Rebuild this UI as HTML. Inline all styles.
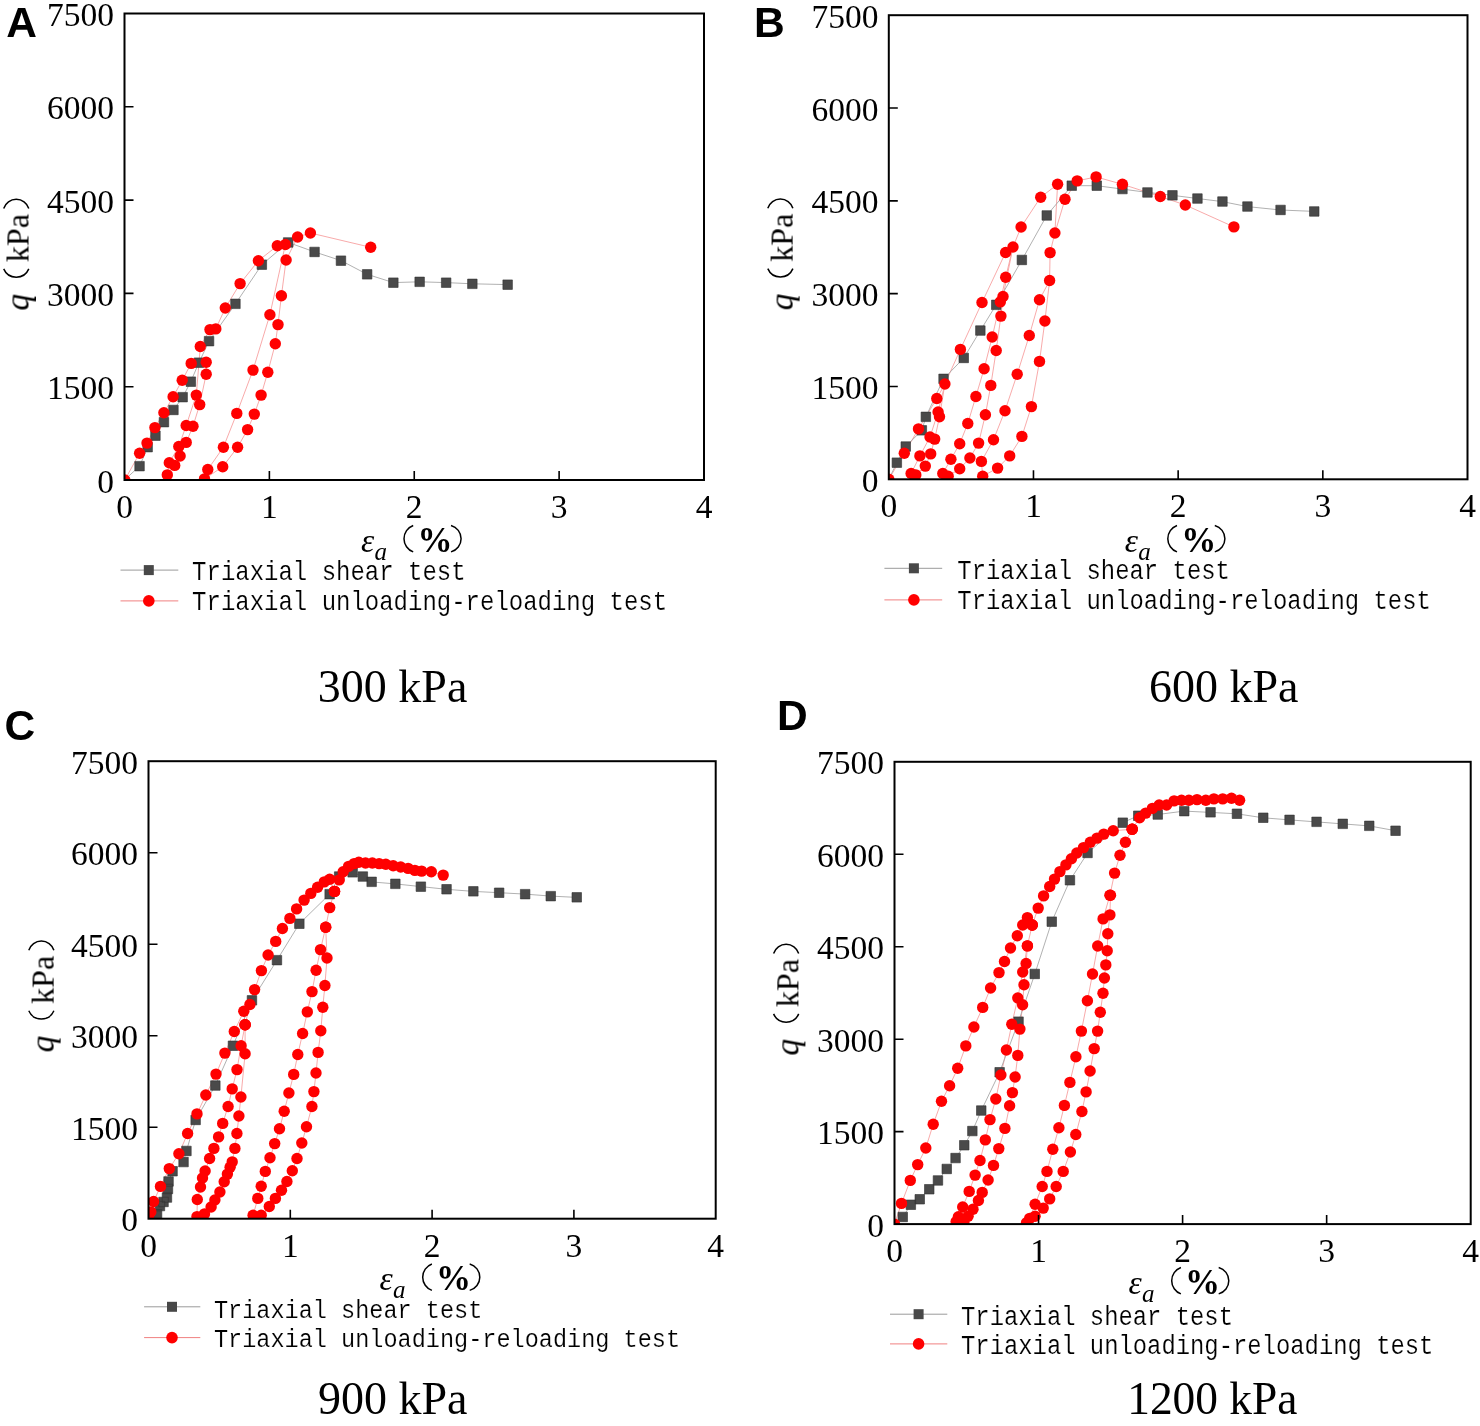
<!DOCTYPE html><html><head><meta charset="utf-8"><style>html,body{margin:0;padding:0;background:#fff;}svg{display:block;}text{will-change:transform;}</style></head><body>
<svg width="1480" height="1426" viewBox="0 0 1480 1426">
<rect width="1480" height="1426" fill="#fff"/>
<defs>
<clipPath id="clipA"><rect x="124.5" y="13.5" width="579.50" height="466.50"/></clipPath>
<clipPath id="clipB"><rect x="888.8" y="15.2" width="578.70" height="464.10"/></clipPath>
<clipPath id="clipC"><rect x="148.5" y="761.2" width="567.20" height="457.50"/></clipPath>
<clipPath id="clipD"><rect x="894.5" y="761.8" width="576.20" height="462.30"/></clipPath>
</defs>
<g clip-path="url(#clipA)">
<polyline points="124.8,480.0 139.6,453.2 147.0,443.1 154.9,427.6 163.9,412.7 173.1,396.8 182.2,380.3 191.2,363.4 206.2,362.2 206.2,374.2 199.7,404.6 193.0,426.2 186.2,442.4 180.1,456.0 174.7,465.4 167.3,474.9 169.3,462.7 178.8,446.5 186.2,425.5 196.3,395.1 200.3,346.5 210.0,329.6 215.8,328.9 225.3,308.0 240.1,283.6 258.4,260.7 277.3,245.8 285.4,244.5 269.9,314.7 253.0,370.1 236.8,413.4 223.4,447.2 207.8,469.5 204.5,478.9 222.7,466.8 237.6,447.2 247.6,429.6 254.3,414.1 261.1,395.1 267.8,372.2 275.3,343.8 278.0,324.6 281.4,295.8 286.1,260.0 297.6,237.0 310.4,233.0 370.7,247.3" fill="none" stroke="#f7a0a0" stroke-width="0.9" />
<polyline points="124.5,480.0 139.6,466.1 147.7,447.2 155.4,435.7 163.9,422.2 173.4,410.0 182.7,397.2 190.8,381.6 198.9,362.7 209.1,341.1 235.4,303.9 261.8,264.7 288.1,242.4 314.5,251.9 341.0,260.6 367.1,274.3 393.4,282.6 419.7,281.8 446.1,282.6 472.4,283.8 507.6,284.6" fill="none" stroke="#a8a8a8" stroke-width="0.9" />
<path fill="#4a4a4a" stroke="#303030" stroke-width="0.6" d="M134.8 461.4h9.5v9.5h-9.5zM142.9 442.4h9.5v9.5h-9.5zM150.7 430.9h9.5v9.5h-9.5zM159.2 417.4h9.5v9.5h-9.5zM168.7 405.2h9.5v9.5h-9.5zM177.9 392.4h9.5v9.5h-9.5zM186.1 376.9h9.5v9.5h-9.5zM194.2 357.9h9.5v9.5h-9.5zM204.3 336.4h9.5v9.5h-9.5zM230.7 299.1h9.5v9.5h-9.5zM257.1 259.9h9.5v9.5h-9.5zM283.4 237.7h9.5v9.5h-9.5zM309.8 247.2h9.5v9.5h-9.5zM336.2 255.9h9.5v9.5h-9.5zM362.4 269.6h9.5v9.5h-9.5zM388.6 277.9h9.5v9.5h-9.5zM414.9 277.1h9.5v9.5h-9.5zM441.4 277.9h9.5v9.5h-9.5zM467.6 279.1h9.5v9.5h-9.5zM502.9 279.9h9.5v9.5h-9.5z"/>
<g fill="#ff0000"><circle cx="124.8" cy="480.0" r="5.7"/><circle cx="139.6" cy="453.2" r="5.7"/><circle cx="147.0" cy="443.1" r="5.7"/><circle cx="154.9" cy="427.6" r="5.7"/><circle cx="163.9" cy="412.7" r="5.7"/><circle cx="173.1" cy="396.8" r="5.7"/><circle cx="182.2" cy="380.3" r="5.7"/><circle cx="191.2" cy="363.4" r="5.7"/><circle cx="206.2" cy="362.2" r="5.7"/><circle cx="206.2" cy="374.2" r="5.7"/><circle cx="199.7" cy="404.6" r="5.7"/><circle cx="193.0" cy="426.2" r="5.7"/><circle cx="186.2" cy="442.4" r="5.7"/><circle cx="180.1" cy="456.0" r="5.7"/><circle cx="174.7" cy="465.4" r="5.7"/><circle cx="167.3" cy="474.9" r="5.7"/><circle cx="169.3" cy="462.7" r="5.7"/><circle cx="178.8" cy="446.5" r="5.7"/><circle cx="186.2" cy="425.5" r="5.7"/><circle cx="196.3" cy="395.1" r="5.7"/><circle cx="200.3" cy="346.5" r="5.7"/><circle cx="210.0" cy="329.6" r="5.7"/><circle cx="215.8" cy="328.9" r="5.7"/><circle cx="225.3" cy="308.0" r="5.7"/><circle cx="240.1" cy="283.6" r="5.7"/><circle cx="258.4" cy="260.7" r="5.7"/><circle cx="277.3" cy="245.8" r="5.7"/><circle cx="285.4" cy="244.5" r="5.7"/><circle cx="269.9" cy="314.7" r="5.7"/><circle cx="253.0" cy="370.1" r="5.7"/><circle cx="236.8" cy="413.4" r="5.7"/><circle cx="223.4" cy="447.2" r="5.7"/><circle cx="207.8" cy="469.5" r="5.7"/><circle cx="204.5" cy="478.9" r="5.7"/><circle cx="222.7" cy="466.8" r="5.7"/><circle cx="237.6" cy="447.2" r="5.7"/><circle cx="247.6" cy="429.6" r="5.7"/><circle cx="254.3" cy="414.1" r="5.7"/><circle cx="261.1" cy="395.1" r="5.7"/><circle cx="267.8" cy="372.2" r="5.7"/><circle cx="275.3" cy="343.8" r="5.7"/><circle cx="278.0" cy="324.6" r="5.7"/><circle cx="281.4" cy="295.8" r="5.7"/><circle cx="286.1" cy="260.0" r="5.7"/><circle cx="297.6" cy="237.0" r="5.7"/><circle cx="310.4" cy="233.0" r="5.7"/><circle cx="370.7" cy="247.3" r="5.7"/></g>
</g>
<rect x="124.5" y="13.5" width="579.50" height="466.50" fill="none" stroke="#000" stroke-width="2"/>
<path d="M124.5 386.70h9 M124.5 293.40h9 M124.5 200.10h9 M124.5 106.80h9 M269.38 480.0v-9 M414.25 480.0v-9 M559.12 480.0v-9" stroke="#000" stroke-width="1.6" fill="none"/>
<text x="114.1" y="492.5" font-family='"Liberation Serif", serif' font-size="33.5" text-anchor="end">0</text>
<text x="114.1" y="399.2" font-family='"Liberation Serif", serif' font-size="33.5" text-anchor="end">1500</text>
<text x="114.1" y="305.9" font-family='"Liberation Serif", serif' font-size="33.5" text-anchor="end">3000</text>
<text x="114.1" y="212.6" font-family='"Liberation Serif", serif' font-size="33.5" text-anchor="end">4500</text>
<text x="114.1" y="119.3" font-family='"Liberation Serif", serif' font-size="33.5" text-anchor="end">6000</text>
<text x="114.1" y="26.0" font-family='"Liberation Serif", serif' font-size="33.5" text-anchor="end">7500</text>
<text x="124.5" y="517.8" font-family='"Liberation Serif", serif' font-size="33.5" text-anchor="middle">0</text>
<text x="269.4" y="517.8" font-family='"Liberation Serif", serif' font-size="33.5" text-anchor="middle">1</text>
<text x="414.2" y="517.8" font-family='"Liberation Serif", serif' font-size="33.5" text-anchor="middle">2</text>
<text x="559.1" y="517.8" font-family='"Liberation Serif", serif' font-size="33.5" text-anchor="middle">3</text>
<text x="704.0" y="517.8" font-family='"Liberation Serif", serif' font-size="33.5" text-anchor="middle">4</text>
<text x="6.3" y="36.8" font-family='"Liberation Sans", sans-serif' font-weight="bold" font-size="42.5">A</text>
<g transform="translate(28.5,309.6) rotate(-90)">
<text x="-1" y="0" font-family='"Liberation Serif", serif' font-style="italic" font-size="33.5">q</text>
<path d="M40.70 -24.80A13.64 13.64 0 0 0 40.70 0.30" fill="none" stroke="#000" stroke-width="1.5"/>
<text x="47.6" y="0" font-family='"Liberation Serif", serif' font-size="32.5" textLength="48" lengthAdjust="spacingAndGlyphs">kPa</text>
<path d="M101.10 -24.80A13.16 13.16 0 0 1 101.10 0.30" fill="none" stroke="#000" stroke-width="1.5"/>
</g>
<text x="360.9" y="551.5" font-family='"Liberation Serif", serif' font-style="italic" font-size="33.5">&#949;</text>
<text x="374.4" y="559.8" font-family='"Liberation Serif", serif' font-style="italic" font-size="25">a</text>
<path d="M413.20 525.50A14.07 14.07 0 0 0 413.20 551.90" fill="none" stroke="#000" stroke-width="1.5"/>
<path d="M451.00 525.50A13.68 13.68 0 0 1 451.00 551.90" fill="none" stroke="#000" stroke-width="1.5"/>
<text x="417.4" y="551.5" font-family='"Liberation Serif", serif' font-weight="bold" font-size="35">%</text>
<path d="M120.5 570.1H178.3" stroke="#9a9a9a" stroke-width="1"/>
<rect x="143.8" y="565.1" width="10" height="10" fill="#484848"/>
<path d="M120.5 600.9H178.3" stroke="#f08080" stroke-width="1"/>
<circle cx="148.8" cy="600.9" r="5.8" fill="#ff0000"/>
<g transform="translate(192.1,580.2) scale(1,1.13)"><text x="0" y="0" font-family='"Liberation Mono", monospace' font-size="24.0" stroke="#fff" stroke-width="0.15">Triaxial shear test</text></g>
<g transform="translate(192.1,610.0) scale(1,1.13)"><text x="0" y="0" font-family='"Liberation Mono", monospace' font-size="24.0" stroke="#fff" stroke-width="0.15">Triaxial unloading-reloading test</text></g>
<text x="317.8" y="702.4" font-family='"Liberation Serif", serif' font-size="46">300 kPa</text>
<g clip-path="url(#clipB)">
<polyline points="888.8,479.3 904.3,453.2 918.5,428.9 936.8,398.5 944.9,384.0 939.5,416.8 934.7,439.1 930.7,453.9 925.3,466.1 915.8,474.9 911.1,473.5 919.9,455.9 930.0,437.0 938.1,412.0 944.9,384.0 960.4,349.4 982.0,302.5 1005.6,252.5 1013.0,247.0" fill="none" stroke="#f7a0a0" stroke-width="0.9" />
<polyline points="1013.0,247.0 1005.7,277.3 1000.3,301.9 992.2,337.0 984.1,368.8 975.9,396.5 967.8,423.5 959.7,443.8 950.9,459.3 942.8,473.5 948.2,476.2 959.7,468.8 969.9,458.0 978.6,443.1 985.4,414.7 990.8,385.4 996.2,350.5 1000.9,316.1 1003.0,296.5 1013.0,247.0 1021.1,227.0 1040.7,197.2 1057.6,184.3" fill="none" stroke="#f7a0a0" stroke-width="0.9" />
<polyline points="1057.6,184.3 1054.9,233.0 1050.1,252.6 1049.6,280.5 1039.5,299.8 1029.3,335.5 1017.2,374.2 1005.0,410.7 993.5,439.7 981.4,461.4 982.7,476.2 997.6,468.1 1009.7,455.9 1021.9,436.4 1031.4,406.6 1039.5,361.4 1044.9,321.0 1049.6,280.5" fill="none" stroke="#f7a0a0" stroke-width="0.9" />
<polyline points="1054.9,233.0 1065.0,199.2 1077.2,180.9 1096.1,176.9 1122.4,184.3 1160.3,196.5 1185.3,205.0 1233.9,226.9" fill="none" stroke="#f7a0a0" stroke-width="0.9" />
<polyline points="888.8,479.3 896.9,462.7 905.7,446.5 921.9,430.3 925.9,416.8 943.5,378.9 963.8,358.0 980.4,330.5 996.2,304.8 1021.9,260.0 1046.8,215.4 1071.8,185.7 1096.8,185.7 1122.4,189.1 1147.4,192.4 1172.4,195.3 1197.4,198.5 1222.4,201.6 1247.4,206.6 1280.5,210.0 1314.3,211.4" fill="none" stroke="#a8a8a8" stroke-width="0.9" />
<path fill="#4a4a4a" stroke="#303030" stroke-width="0.6" d="M892.1 457.9h9.5v9.5h-9.5zM901.0 441.8h9.5v9.5h-9.5zM917.1 425.6h9.5v9.5h-9.5zM921.1 412.1h9.5v9.5h-9.5zM938.8 374.1h9.5v9.5h-9.5zM959.0 353.2h9.5v9.5h-9.5zM975.6 325.8h9.5v9.5h-9.5zM991.5 300.1h9.5v9.5h-9.5zM1017.1 255.2h9.5v9.5h-9.5zM1042.0 210.7h9.5v9.5h-9.5zM1067.0 180.9h9.5v9.5h-9.5zM1092.0 180.9h9.5v9.5h-9.5zM1117.7 184.3h9.5v9.5h-9.5zM1142.7 187.7h9.5v9.5h-9.5zM1167.7 190.6h9.5v9.5h-9.5zM1192.7 193.8h9.5v9.5h-9.5zM1217.7 196.8h9.5v9.5h-9.5zM1242.7 201.8h9.5v9.5h-9.5zM1275.8 205.2h9.5v9.5h-9.5zM1309.5 206.7h9.5v9.5h-9.5z"/>
<g fill="#ff0000"><circle cx="888.8" cy="479.3" r="5.7"/><circle cx="904.3" cy="453.2" r="5.7"/><circle cx="918.5" cy="428.9" r="5.7"/><circle cx="936.8" cy="398.5" r="5.7"/><circle cx="944.9" cy="384.0" r="5.7"/><circle cx="939.5" cy="416.8" r="5.7"/><circle cx="934.7" cy="439.1" r="5.7"/><circle cx="930.7" cy="453.9" r="5.7"/><circle cx="925.3" cy="466.1" r="5.7"/><circle cx="915.8" cy="474.9" r="5.7"/><circle cx="911.1" cy="473.5" r="5.7"/><circle cx="919.9" cy="455.9" r="5.7"/><circle cx="930.0" cy="437.0" r="5.7"/><circle cx="938.1" cy="412.0" r="5.7"/><circle cx="960.4" cy="349.4" r="5.7"/><circle cx="982.0" cy="302.5" r="5.7"/><circle cx="1005.6" cy="252.5" r="5.7"/><circle cx="1013.0" cy="247.0" r="5.7"/><circle cx="1005.7" cy="277.3" r="5.7"/><circle cx="1000.3" cy="301.9" r="5.7"/><circle cx="992.2" cy="337.0" r="5.7"/><circle cx="984.1" cy="368.8" r="5.7"/><circle cx="975.9" cy="396.5" r="5.7"/><circle cx="967.8" cy="423.5" r="5.7"/><circle cx="959.7" cy="443.8" r="5.7"/><circle cx="950.9" cy="459.3" r="5.7"/><circle cx="942.8" cy="473.5" r="5.7"/><circle cx="948.2" cy="476.2" r="5.7"/><circle cx="959.7" cy="468.8" r="5.7"/><circle cx="969.9" cy="458.0" r="5.7"/><circle cx="978.6" cy="443.1" r="5.7"/><circle cx="985.4" cy="414.7" r="5.7"/><circle cx="990.8" cy="385.4" r="5.7"/><circle cx="996.2" cy="350.5" r="5.7"/><circle cx="1000.9" cy="316.1" r="5.7"/><circle cx="1003.0" cy="296.5" r="5.7"/><circle cx="1021.1" cy="227.0" r="5.7"/><circle cx="1040.7" cy="197.2" r="5.7"/><circle cx="1057.6" cy="184.3" r="5.7"/><circle cx="1054.9" cy="233.0" r="5.7"/><circle cx="1050.1" cy="252.6" r="5.7"/><circle cx="1049.6" cy="280.5" r="5.7"/><circle cx="1039.5" cy="299.8" r="5.7"/><circle cx="1029.3" cy="335.5" r="5.7"/><circle cx="1017.2" cy="374.2" r="5.7"/><circle cx="1005.0" cy="410.7" r="5.7"/><circle cx="993.5" cy="439.7" r="5.7"/><circle cx="981.4" cy="461.4" r="5.7"/><circle cx="982.7" cy="476.2" r="5.7"/><circle cx="997.6" cy="468.1" r="5.7"/><circle cx="1009.7" cy="455.9" r="5.7"/><circle cx="1021.9" cy="436.4" r="5.7"/><circle cx="1031.4" cy="406.6" r="5.7"/><circle cx="1039.5" cy="361.4" r="5.7"/><circle cx="1044.9" cy="321.0" r="5.7"/><circle cx="1065.0" cy="199.2" r="5.7"/><circle cx="1077.2" cy="180.9" r="5.7"/><circle cx="1096.1" cy="176.9" r="5.7"/><circle cx="1122.4" cy="184.3" r="5.7"/><circle cx="1160.3" cy="196.5" r="5.7"/><circle cx="1185.3" cy="205.0" r="5.7"/><circle cx="1233.9" cy="226.9" r="5.7"/></g>
</g>
<rect x="888.8" y="15.2" width="578.70" height="464.10" fill="none" stroke="#000" stroke-width="2"/>
<path d="M888.8 386.48h9 M888.8 293.66h9 M888.8 200.84h9 M888.8 108.02h9 M1033.47 479.3v-9 M1178.15 479.3v-9 M1322.83 479.3v-9" stroke="#000" stroke-width="1.6" fill="none"/>
<text x="878.4" y="491.8" font-family='"Liberation Serif", serif' font-size="33.5" text-anchor="end">0</text>
<text x="878.4" y="399.0" font-family='"Liberation Serif", serif' font-size="33.5" text-anchor="end">1500</text>
<text x="878.4" y="306.2" font-family='"Liberation Serif", serif' font-size="33.5" text-anchor="end">3000</text>
<text x="878.4" y="213.3" font-family='"Liberation Serif", serif' font-size="33.5" text-anchor="end">4500</text>
<text x="878.4" y="120.5" font-family='"Liberation Serif", serif' font-size="33.5" text-anchor="end">6000</text>
<text x="878.4" y="27.7" font-family='"Liberation Serif", serif' font-size="33.5" text-anchor="end">7500</text>
<text x="888.8" y="517.1" font-family='"Liberation Serif", serif' font-size="33.5" text-anchor="middle">0</text>
<text x="1033.5" y="517.1" font-family='"Liberation Serif", serif' font-size="33.5" text-anchor="middle">1</text>
<text x="1178.2" y="517.1" font-family='"Liberation Serif", serif' font-size="33.5" text-anchor="middle">2</text>
<text x="1322.8" y="517.1" font-family='"Liberation Serif", serif' font-size="33.5" text-anchor="middle">3</text>
<text x="1467.5" y="517.1" font-family='"Liberation Serif", serif' font-size="33.5" text-anchor="middle">4</text>
<text x="753.9" y="36.5" font-family='"Liberation Sans", sans-serif' font-weight="bold" font-size="42.5">B</text>
<g transform="translate(792.6,309.3) rotate(-90)">
<text x="-1" y="0" font-family='"Liberation Serif", serif' font-style="italic" font-size="33.5">q</text>
<path d="M40.70 -24.80A13.64 13.64 0 0 0 40.70 0.30" fill="none" stroke="#000" stroke-width="1.5"/>
<text x="47.6" y="0" font-family='"Liberation Serif", serif' font-size="32.5" textLength="48" lengthAdjust="spacingAndGlyphs">kPa</text>
<path d="M101.10 -24.80A13.16 13.16 0 0 1 101.10 0.30" fill="none" stroke="#000" stroke-width="1.5"/>
</g>
<text x="1124.7" y="551.5" font-family='"Liberation Serif", serif' font-style="italic" font-size="33.5">&#949;</text>
<text x="1138.2" y="559.8" font-family='"Liberation Serif", serif' font-style="italic" font-size="25">a</text>
<path d="M1177.00 525.50A14.07 14.07 0 0 0 1177.00 551.90" fill="none" stroke="#000" stroke-width="1.5"/>
<path d="M1214.80 525.50A13.68 13.68 0 0 1 1214.80 551.90" fill="none" stroke="#000" stroke-width="1.5"/>
<text x="1181.2" y="551.5" font-family='"Liberation Serif", serif' font-weight="bold" font-size="35">%</text>
<path d="M884.4 568.3H942.2" stroke="#9a9a9a" stroke-width="1"/>
<rect x="908.9" y="563.3" width="10" height="10" fill="#484848"/>
<path d="M884.4 599.9H942.2" stroke="#f08080" stroke-width="1"/>
<circle cx="913.9" cy="599.9" r="5.8" fill="#ff0000"/>
<g transform="translate(957.3,579.4) scale(1,1.13)"><text x="0" y="0" font-family='"Liberation Mono", monospace' font-size="23.92" stroke="#fff" stroke-width="0.15">Triaxial shear test</text></g>
<g transform="translate(957.3,608.8) scale(1,1.13)"><text x="0" y="0" font-family='"Liberation Mono", monospace' font-size="23.92" stroke="#fff" stroke-width="0.15">Triaxial unloading-reloading test</text></g>
<text x="1149.0" y="702.3" font-family='"Liberation Serif", serif' font-size="46">600 kPa</text>
<g clip-path="url(#clipC)">
<polyline points="148.5,1218.7 150.8,1211.9 153.6,1201.5 160.5,1186.4 169.3,1168.6 178.9,1153.8 187.6,1133.5 197.0,1113.9 205.8,1095.0 216.0,1074.1 224.9,1053.1 234.3,1031.5 243.8,1011.2 245.1,1024.7 245.1,1024.7 245.1,1053.8 240.9,1097.0 238.9,1116.0 236.9,1133.5 234.9,1148.4 232.2,1161.9 230.1,1167.3 227.4,1174.1 224.2,1181.8 219.9,1192.0 214.9,1200.0 211.1,1207.0 204.5,1213.9" fill="none" stroke="#f7a0a0" stroke-width="0.9" />
<polyline points="197.0,1216.6 197.3,1199.5 200.5,1187.0 202.5,1178.0 205.1,1171.0 209.6,1158.5 213.9,1148.4 218.6,1136.9 222.7,1123.4 228.1,1106.5 232.2,1088.9 237.0,1069.6 241.1,1045.7 245.1,1024.7" fill="none" stroke="#f7a0a0" stroke-width="0.9" />
<polyline points="245.1,1024.7 249.9,1004.5 249.9,1004.5 254.6,989.6 261.4,970.6 268.1,955.0 275.7,941.4 282.4,928.5 289.9,918.4 296.6,908.9 304.1,900.1 310.8,893.4 317.6,887.3 324.3,881.9 329.7,879.2 334.5,891.4" fill="none" stroke="#f7a0a0" stroke-width="0.9" />
<polyline points="253.1,1215.3 257.8,1198.4 261.2,1186.2 265.3,1171.4 270.0,1157.8 274.7,1143.6 279.5,1128.8 284.2,1111.2 288.9,1093.0 293.7,1074.4 297.8,1054.5 302.6,1033.5 307.3,1011.9 312.0,991.6 316.1,970.2 320.5,949.6 325.7,927.2 329.7,907.6 334.5,891.4" fill="none" stroke="#f7a0a0" stroke-width="0.9" />
<polyline points="261.2,1215.3 269.3,1206.5 275.4,1198.4 281.5,1190.3 286.9,1181.5 292.3,1170.7 297.0,1158.5 301.8,1143.0 306.5,1126.8 311.9,1106.5 313.9,1091.6 316.0,1073.0 318.1,1052.4 320.8,1030.8 322.8,1007.2 324.9,985.5 327.0,958.0 325.7,927.2" fill="none" stroke="#f7a0a0" stroke-width="0.9" />
<polyline points="334.5,891.4 339.2,879.9 343.2,871.8 348.6,866.4 354.1,863.6 358.8,862.3 365.5,863.0 372.3,863.0 379.1,863.6 385.8,864.3 393.2,865.7 400.7,867.0 408.1,868.4 414.9,870.4 421.6,871.1 431.3,871.8 443.2,875.1" fill="none" stroke="#f7a0a0" stroke-width="0.9" />
<polyline points="204.5,1213.9 197.0,1216.6" fill="none" stroke="#f7a0a0" stroke-width="0.9" />
<polyline points="329.7,879.2 334.5,891.4" fill="none" stroke="#f7a0a0" stroke-width="0.9" />
<polyline points="148.5,1218.7 157.1,1214.2 160.0,1206.1 163.5,1202.0 166.9,1197.5 168.0,1188.9 168.6,1181.4 172.6,1171.3 183.5,1162.1 186.4,1150.9 195.7,1120.0 215.3,1085.5 233.0,1045.7 251.9,1000.4 277.0,960.1 299.3,923.8 329.7,894.1 339.2,876.5 352.7,872.4 362.8,876.5 371.6,881.9 395.3,883.9 420.9,886.6 446.5,889.3 473.4,891.4 499.1,892.7 525.1,894.1 550.8,896.1 576.8,897.4" fill="none" stroke="#a8a8a8" stroke-width="0.9" />
<path fill="#4a4a4a" stroke="#303030" stroke-width="0.6" d="M152.3 1209.5h9.5v9.5h-9.5zM155.2 1201.3h9.5v9.5h-9.5zM158.8 1197.2h9.5v9.5h-9.5zM162.2 1192.8h9.5v9.5h-9.5zM163.2 1184.2h9.5v9.5h-9.5zM163.8 1176.7h9.5v9.5h-9.5zM167.8 1166.5h9.5v9.5h-9.5zM178.8 1157.3h9.5v9.5h-9.5zM181.7 1146.2h9.5v9.5h-9.5zM190.9 1115.2h9.5v9.5h-9.5zM210.6 1080.8h9.5v9.5h-9.5zM228.2 1041.0h9.5v9.5h-9.5zM247.2 995.6h9.5v9.5h-9.5zM272.2 955.4h9.5v9.5h-9.5zM294.6 919.0h9.5v9.5h-9.5zM324.9 889.4h9.5v9.5h-9.5zM334.4 871.8h9.5v9.5h-9.5zM347.9 867.6h9.5v9.5h-9.5zM358.1 871.8h9.5v9.5h-9.5zM366.9 877.1h9.5v9.5h-9.5zM390.6 879.1h9.5v9.5h-9.5zM416.1 881.9h9.5v9.5h-9.5zM441.8 884.5h9.5v9.5h-9.5zM468.6 886.6h9.5v9.5h-9.5zM494.4 888.0h9.5v9.5h-9.5zM520.4 889.4h9.5v9.5h-9.5zM546.0 891.4h9.5v9.5h-9.5zM572.0 892.6h9.5v9.5h-9.5z"/>
<g fill="#ff0000"><circle cx="148.5" cy="1218.7" r="5.7"/><circle cx="150.8" cy="1211.9" r="5.7"/><circle cx="153.6" cy="1201.5" r="5.7"/><circle cx="160.5" cy="1186.4" r="5.7"/><circle cx="169.3" cy="1168.6" r="5.7"/><circle cx="178.9" cy="1153.8" r="5.7"/><circle cx="187.6" cy="1133.5" r="5.7"/><circle cx="197.0" cy="1113.9" r="5.7"/><circle cx="205.8" cy="1095.0" r="5.7"/><circle cx="216.0" cy="1074.1" r="5.7"/><circle cx="224.9" cy="1053.1" r="5.7"/><circle cx="234.3" cy="1031.5" r="5.7"/><circle cx="243.8" cy="1011.2" r="5.7"/><circle cx="245.1" cy="1024.7" r="5.7"/><circle cx="245.1" cy="1024.7" r="5.7"/><circle cx="245.1" cy="1053.8" r="5.7"/><circle cx="240.9" cy="1097.0" r="5.7"/><circle cx="238.9" cy="1116.0" r="5.7"/><circle cx="236.9" cy="1133.5" r="5.7"/><circle cx="234.9" cy="1148.4" r="5.7"/><circle cx="232.2" cy="1161.9" r="5.7"/><circle cx="230.1" cy="1167.3" r="5.7"/><circle cx="227.4" cy="1174.1" r="5.7"/><circle cx="224.2" cy="1181.8" r="5.7"/><circle cx="219.9" cy="1192.0" r="5.7"/><circle cx="214.9" cy="1200.0" r="5.7"/><circle cx="211.1" cy="1207.0" r="5.7"/><circle cx="204.5" cy="1213.9" r="5.7"/><circle cx="197.0" cy="1216.6" r="5.7"/><circle cx="197.3" cy="1199.5" r="5.7"/><circle cx="200.5" cy="1187.0" r="5.7"/><circle cx="202.5" cy="1178.0" r="5.7"/><circle cx="205.1" cy="1171.0" r="5.7"/><circle cx="209.6" cy="1158.5" r="5.7"/><circle cx="213.9" cy="1148.4" r="5.7"/><circle cx="218.6" cy="1136.9" r="5.7"/><circle cx="222.7" cy="1123.4" r="5.7"/><circle cx="228.1" cy="1106.5" r="5.7"/><circle cx="232.2" cy="1088.9" r="5.7"/><circle cx="237.0" cy="1069.6" r="5.7"/><circle cx="241.1" cy="1045.7" r="5.7"/><circle cx="245.1" cy="1024.7" r="5.7"/><circle cx="249.9" cy="1004.5" r="5.7"/><circle cx="254.6" cy="989.6" r="5.7"/><circle cx="261.4" cy="970.6" r="5.7"/><circle cx="268.1" cy="955.0" r="5.7"/><circle cx="275.7" cy="941.4" r="5.7"/><circle cx="282.4" cy="928.5" r="5.7"/><circle cx="289.9" cy="918.4" r="5.7"/><circle cx="296.6" cy="908.9" r="5.7"/><circle cx="304.1" cy="900.1" r="5.7"/><circle cx="310.8" cy="893.4" r="5.7"/><circle cx="317.6" cy="887.3" r="5.7"/><circle cx="324.3" cy="881.9" r="5.7"/><circle cx="329.7" cy="879.2" r="5.7"/><circle cx="334.5" cy="891.4" r="5.7"/><circle cx="253.1" cy="1215.3" r="5.7"/><circle cx="257.8" cy="1198.4" r="5.7"/><circle cx="261.2" cy="1186.2" r="5.7"/><circle cx="265.3" cy="1171.4" r="5.7"/><circle cx="270.0" cy="1157.8" r="5.7"/><circle cx="274.7" cy="1143.6" r="5.7"/><circle cx="279.5" cy="1128.8" r="5.7"/><circle cx="284.2" cy="1111.2" r="5.7"/><circle cx="288.9" cy="1093.0" r="5.7"/><circle cx="293.7" cy="1074.4" r="5.7"/><circle cx="297.8" cy="1054.5" r="5.7"/><circle cx="302.6" cy="1033.5" r="5.7"/><circle cx="307.3" cy="1011.9" r="5.7"/><circle cx="312.0" cy="991.6" r="5.7"/><circle cx="316.1" cy="970.2" r="5.7"/><circle cx="320.5" cy="949.6" r="5.7"/><circle cx="325.7" cy="927.2" r="5.7"/><circle cx="329.7" cy="907.6" r="5.7"/><circle cx="334.5" cy="891.4" r="5.7"/><circle cx="261.2" cy="1215.3" r="5.7"/><circle cx="269.3" cy="1206.5" r="5.7"/><circle cx="275.4" cy="1198.4" r="5.7"/><circle cx="281.5" cy="1190.3" r="5.7"/><circle cx="286.9" cy="1181.5" r="5.7"/><circle cx="292.3" cy="1170.7" r="5.7"/><circle cx="297.0" cy="1158.5" r="5.7"/><circle cx="301.8" cy="1143.0" r="5.7"/><circle cx="306.5" cy="1126.8" r="5.7"/><circle cx="311.9" cy="1106.5" r="5.7"/><circle cx="313.9" cy="1091.6" r="5.7"/><circle cx="316.0" cy="1073.0" r="5.7"/><circle cx="318.1" cy="1052.4" r="5.7"/><circle cx="320.8" cy="1030.8" r="5.7"/><circle cx="322.8" cy="1007.2" r="5.7"/><circle cx="324.9" cy="985.5" r="5.7"/><circle cx="327.0" cy="958.0" r="5.7"/><circle cx="325.7" cy="927.2" r="5.7"/><circle cx="334.5" cy="891.4" r="5.7"/><circle cx="339.2" cy="879.9" r="5.7"/><circle cx="343.2" cy="871.8" r="5.7"/><circle cx="348.6" cy="866.4" r="5.7"/><circle cx="354.1" cy="863.6" r="5.7"/><circle cx="358.8" cy="862.3" r="5.7"/><circle cx="365.5" cy="863.0" r="5.7"/><circle cx="372.3" cy="863.0" r="5.7"/><circle cx="379.1" cy="863.6" r="5.7"/><circle cx="385.8" cy="864.3" r="5.7"/><circle cx="393.2" cy="865.7" r="5.7"/><circle cx="400.7" cy="867.0" r="5.7"/><circle cx="408.1" cy="868.4" r="5.7"/><circle cx="414.9" cy="870.4" r="5.7"/><circle cx="421.6" cy="871.1" r="5.7"/><circle cx="431.3" cy="871.8" r="5.7"/><circle cx="443.2" cy="875.1" r="5.7"/></g>
</g>
<rect x="148.5" y="761.2" width="567.20" height="457.50" fill="none" stroke="#000" stroke-width="2"/>
<path d="M148.5 1127.20h9 M148.5 1035.70h9 M148.5 944.20h9 M148.5 852.70h9 M290.30 1218.7v-9 M432.10 1218.7v-9 M573.90 1218.7v-9" stroke="#000" stroke-width="1.6" fill="none"/>
<text x="138.1" y="1231.2" font-family='"Liberation Serif", serif' font-size="33.5" text-anchor="end">0</text>
<text x="138.1" y="1139.7" font-family='"Liberation Serif", serif' font-size="33.5" text-anchor="end">1500</text>
<text x="138.1" y="1048.2" font-family='"Liberation Serif", serif' font-size="33.5" text-anchor="end">3000</text>
<text x="138.1" y="956.7" font-family='"Liberation Serif", serif' font-size="33.5" text-anchor="end">4500</text>
<text x="138.1" y="865.2" font-family='"Liberation Serif", serif' font-size="33.5" text-anchor="end">6000</text>
<text x="138.1" y="773.7" font-family='"Liberation Serif", serif' font-size="33.5" text-anchor="end">7500</text>
<text x="148.5" y="1256.5" font-family='"Liberation Serif", serif' font-size="33.5" text-anchor="middle">0</text>
<text x="290.3" y="1256.5" font-family='"Liberation Serif", serif' font-size="33.5" text-anchor="middle">1</text>
<text x="432.1" y="1256.5" font-family='"Liberation Serif", serif' font-size="33.5" text-anchor="middle">2</text>
<text x="573.9" y="1256.5" font-family='"Liberation Serif", serif' font-size="33.5" text-anchor="middle">3</text>
<text x="715.7" y="1256.5" font-family='"Liberation Serif", serif' font-size="33.5" text-anchor="middle">4</text>
<text x="4.4" y="739.9" font-family='"Liberation Sans", sans-serif' font-weight="bold" font-size="42.5">C</text>
<g transform="translate(53.6,1051.4) rotate(-90)">
<text x="-1" y="0" font-family='"Liberation Serif", serif' font-style="italic" font-size="33.5">q</text>
<path d="M40.70 -24.80A13.64 13.64 0 0 0 40.70 0.30" fill="none" stroke="#000" stroke-width="1.5"/>
<text x="47.6" y="0" font-family='"Liberation Serif", serif' font-size="32.5" textLength="48" lengthAdjust="spacingAndGlyphs">kPa</text>
<path d="M101.10 -24.80A13.16 13.16 0 0 1 101.10 0.30" fill="none" stroke="#000" stroke-width="1.5"/>
</g>
<text x="379.6" y="1290.0" font-family='"Liberation Serif", serif' font-style="italic" font-size="33.5">&#949;</text>
<text x="393.1" y="1298.3" font-family='"Liberation Serif", serif' font-style="italic" font-size="25">a</text>
<path d="M431.90 1264.00A14.07 14.07 0 0 0 431.90 1290.40" fill="none" stroke="#000" stroke-width="1.5"/>
<path d="M469.70 1264.00A13.68 13.68 0 0 1 469.70 1290.40" fill="none" stroke="#000" stroke-width="1.5"/>
<text x="436.1" y="1290.0" font-family='"Liberation Serif", serif' font-weight="bold" font-size="35">%</text>
<path d="M144.1 1306.8H200.3" stroke="#9a9a9a" stroke-width="1"/>
<rect x="167.0" y="1301.8" width="10" height="10" fill="#484848"/>
<path d="M144.1 1337.6H200.3" stroke="#f08080" stroke-width="1"/>
<circle cx="172.0" cy="1337.6" r="5.8" fill="#ff0000"/>
<g transform="translate(214.0,1318.1) scale(1,1.13)"><text x="0" y="0" font-family='"Liberation Mono", monospace' font-size="23.55" stroke="#fff" stroke-width="0.15">Triaxial shear test</text></g>
<g transform="translate(214.0,1347.0) scale(1,1.13)"><text x="0" y="0" font-family='"Liberation Mono", monospace' font-size="23.55" stroke="#fff" stroke-width="0.15">Triaxial unloading-reloading test</text></g>
<text x="317.9" y="1414.3" font-family='"Liberation Serif", serif' font-size="46">900 kPa</text>
<g clip-path="url(#clipD)">
<polyline points="894.5,1224.1 901.5,1203.4 910.3,1180.4 917.7,1164.6 925.8,1148.0 933.2,1124.3 941.5,1101.3 949.6,1085.8 957.7,1068.2 965.8,1045.9 973.9,1027.0 982.7,1007.4 990.6,988.0 999.0,972.6 1004.5,961.5 1010.5,948.0 1017.3,935.8 1022.7,925.0 1027.4,917.6 1032.2,925.0" fill="none" stroke="#f7a0a0" stroke-width="0.9" />
<polyline points="956.2,1221.6 958.4,1216.8 962.7,1207.0 969.2,1191.4 975.1,1175.1 980.0,1160.5 985.3,1139.9 990.0,1119.6 995.8,1099.0 1000.9,1075.0 1006.4,1050.0 1011.8,1024.3 1017.8,998.0 1022.7,972.0 1027.4,945.9 1032.2,925.0" fill="none" stroke="#f7a0a0" stroke-width="0.9" />
<polyline points="963.8,1222.2 968.1,1216.2 973.0,1209.2 978.4,1200.5 982.2,1192.4 988.1,1180.0 993.5,1165.4 998.8,1148.6 1004.9,1128.4 1009.6,1105.7 1012.4,1092.6 1015.1,1077.0 1017.8,1055.4 1019.9,1029.1 1022.6,1004.7 1024.0,984.8 1026.1,963.5 1027.4,945.9" fill="none" stroke="#f7a0a0" stroke-width="0.9" />
<polyline points="1032.2,925.0 1038.2,908.1 1043.6,895.9 1049.7,886.5 1054.5,879.1 1059.9,871.6 1065.9,864.9 1071.4,858.8 1076.8,853.0 1083.5,847.6 1090.3,842.2 1097.0,838.1 1103.8,834.1 1113.2,830.7 1132.2,829.3" fill="none" stroke="#f7a0a0" stroke-width="0.9" />
<polyline points="1026.5,1222.7 1029.7,1218.4 1035.1,1204.3 1042.2,1186.5 1047.0,1171.4 1052.8,1149.3 1058.9,1127.7 1064.4,1105.4 1069.9,1082.4 1075.9,1056.8 1081.4,1031.1 1087.4,1000.7 1092.5,974.0 1097.7,946.0 1103.1,918.9 1109.9,895.3 1114.6,873.1 1120.0,855.2 1125.4,842.2 1132.2,829.3" fill="none" stroke="#f7a0a0" stroke-width="0.9" />
<polyline points="1035.1,1216.2 1043.2,1208.1 1049.7,1198.9 1056.2,1186.5 1063.2,1171.4 1070.4,1152.0 1075.8,1134.5 1081.9,1111.5 1086.1,1091.9 1090.1,1071.0 1094.2,1048.6 1097.6,1031.1 1100.3,1012.2 1103.0,993.2 1104.4,978.0 1105.8,964.9 1107.2,950.7 1107.8,933.8 1109.9,914.9 1110.5,895.3" fill="none" stroke="#f7a0a0" stroke-width="0.9" />
<polyline points="1132.2,829.3 1139.6,817.8 1145.7,813.1 1152.4,808.4 1159.2,805.0 1166.6,805.0 1174.1,800.9 1181.5,800.3 1188.9,800.3 1197.0,799.6 1205.8,800.3 1213.9,798.9 1222.7,798.9 1231.5,798.2 1239.6,800.3" fill="none" stroke="#f7a0a0" stroke-width="0.9" />
<polyline points="956.2,1221.6 963.8,1222.2" fill="none" stroke="#f7a0a0" stroke-width="0.9" />
<polyline points="1026.5,1222.7 1035.1,1216.2" fill="none" stroke="#f7a0a0" stroke-width="0.9" />
<polyline points="894.5,1224.1 902.8,1216.9 910.9,1204.7 919.7,1199.3 929.2,1189.2 938.0,1180.4 946.8,1168.9 955.5,1158.1 964.3,1145.3 972.4,1131.1 981.3,1110.5 999.6,1072.3 1018.5,1021.6 1034.8,974.0 1051.8,921.6 1070.0,880.2 1087.6,853.0 1122.7,822.6 1138.2,815.8 1157.8,814.5 1184.2,811.1 1210.5,812.4 1236.9,813.8 1263.2,817.8 1289.5,819.9 1316.5,821.9 1342.8,823.9 1369.2,825.9 1395.5,830.7" fill="none" stroke="#a8a8a8" stroke-width="0.9" />
<path fill="#4a4a4a" stroke="#303030" stroke-width="0.6" d="M898.0 1212.2h9.5v9.5h-9.5zM906.1 1200.0h9.5v9.5h-9.5zM915.0 1194.5h9.5v9.5h-9.5zM924.5 1184.5h9.5v9.5h-9.5zM933.2 1175.7h9.5v9.5h-9.5zM942.0 1164.2h9.5v9.5h-9.5zM950.8 1153.3h9.5v9.5h-9.5zM959.5 1140.5h9.5v9.5h-9.5zM967.6 1126.3h9.5v9.5h-9.5zM976.5 1105.8h9.5v9.5h-9.5zM994.9 1067.5h9.5v9.5h-9.5zM1013.8 1016.9h9.5v9.5h-9.5zM1030.0 969.2h9.5v9.5h-9.5zM1047.0 916.9h9.5v9.5h-9.5zM1065.2 875.5h9.5v9.5h-9.5zM1082.8 848.2h9.5v9.5h-9.5zM1118.0 817.9h9.5v9.5h-9.5zM1133.5 811.0h9.5v9.5h-9.5zM1153.0 809.8h9.5v9.5h-9.5zM1179.5 806.4h9.5v9.5h-9.5zM1205.8 807.6h9.5v9.5h-9.5zM1232.2 809.0h9.5v9.5h-9.5zM1258.5 813.0h9.5v9.5h-9.5zM1284.8 815.1h9.5v9.5h-9.5zM1311.8 817.1h9.5v9.5h-9.5zM1338.0 819.1h9.5v9.5h-9.5zM1364.5 821.1h9.5v9.5h-9.5zM1390.8 826.0h9.5v9.5h-9.5z"/>
<g fill="#ff0000"><circle cx="894.5" cy="1224.1" r="5.7"/><circle cx="901.5" cy="1203.4" r="5.7"/><circle cx="910.3" cy="1180.4" r="5.7"/><circle cx="917.7" cy="1164.6" r="5.7"/><circle cx="925.8" cy="1148.0" r="5.7"/><circle cx="933.2" cy="1124.3" r="5.7"/><circle cx="941.5" cy="1101.3" r="5.7"/><circle cx="949.6" cy="1085.8" r="5.7"/><circle cx="957.7" cy="1068.2" r="5.7"/><circle cx="965.8" cy="1045.9" r="5.7"/><circle cx="973.9" cy="1027.0" r="5.7"/><circle cx="982.7" cy="1007.4" r="5.7"/><circle cx="990.6" cy="988.0" r="5.7"/><circle cx="999.0" cy="972.6" r="5.7"/><circle cx="1004.5" cy="961.5" r="5.7"/><circle cx="1010.5" cy="948.0" r="5.7"/><circle cx="1017.3" cy="935.8" r="5.7"/><circle cx="1022.7" cy="925.0" r="5.7"/><circle cx="1027.4" cy="917.6" r="5.7"/><circle cx="1032.2" cy="925.0" r="5.7"/><circle cx="956.2" cy="1221.6" r="5.7"/><circle cx="958.4" cy="1216.8" r="5.7"/><circle cx="962.7" cy="1207.0" r="5.7"/><circle cx="969.2" cy="1191.4" r="5.7"/><circle cx="975.1" cy="1175.1" r="5.7"/><circle cx="980.0" cy="1160.5" r="5.7"/><circle cx="985.3" cy="1139.9" r="5.7"/><circle cx="990.0" cy="1119.6" r="5.7"/><circle cx="995.8" cy="1099.0" r="5.7"/><circle cx="1000.9" cy="1075.0" r="5.7"/><circle cx="1006.4" cy="1050.0" r="5.7"/><circle cx="1011.8" cy="1024.3" r="5.7"/><circle cx="1017.8" cy="998.0" r="5.7"/><circle cx="1022.7" cy="972.0" r="5.7"/><circle cx="1027.4" cy="945.9" r="5.7"/><circle cx="1032.2" cy="925.0" r="5.7"/><circle cx="963.8" cy="1222.2" r="5.7"/><circle cx="968.1" cy="1216.2" r="5.7"/><circle cx="973.0" cy="1209.2" r="5.7"/><circle cx="978.4" cy="1200.5" r="5.7"/><circle cx="982.2" cy="1192.4" r="5.7"/><circle cx="988.1" cy="1180.0" r="5.7"/><circle cx="993.5" cy="1165.4" r="5.7"/><circle cx="998.8" cy="1148.6" r="5.7"/><circle cx="1004.9" cy="1128.4" r="5.7"/><circle cx="1009.6" cy="1105.7" r="5.7"/><circle cx="1012.4" cy="1092.6" r="5.7"/><circle cx="1015.1" cy="1077.0" r="5.7"/><circle cx="1017.8" cy="1055.4" r="5.7"/><circle cx="1019.9" cy="1029.1" r="5.7"/><circle cx="1022.6" cy="1004.7" r="5.7"/><circle cx="1024.0" cy="984.8" r="5.7"/><circle cx="1026.1" cy="963.5" r="5.7"/><circle cx="1027.4" cy="945.9" r="5.7"/><circle cx="1032.2" cy="925.0" r="5.7"/><circle cx="1038.2" cy="908.1" r="5.7"/><circle cx="1043.6" cy="895.9" r="5.7"/><circle cx="1049.7" cy="886.5" r="5.7"/><circle cx="1054.5" cy="879.1" r="5.7"/><circle cx="1059.9" cy="871.6" r="5.7"/><circle cx="1065.9" cy="864.9" r="5.7"/><circle cx="1071.4" cy="858.8" r="5.7"/><circle cx="1076.8" cy="853.0" r="5.7"/><circle cx="1083.5" cy="847.6" r="5.7"/><circle cx="1090.3" cy="842.2" r="5.7"/><circle cx="1097.0" cy="838.1" r="5.7"/><circle cx="1103.8" cy="834.1" r="5.7"/><circle cx="1113.2" cy="830.7" r="5.7"/><circle cx="1132.2" cy="829.3" r="5.7"/><circle cx="1026.5" cy="1222.7" r="5.7"/><circle cx="1029.7" cy="1218.4" r="5.7"/><circle cx="1035.1" cy="1204.3" r="5.7"/><circle cx="1042.2" cy="1186.5" r="5.7"/><circle cx="1047.0" cy="1171.4" r="5.7"/><circle cx="1052.8" cy="1149.3" r="5.7"/><circle cx="1058.9" cy="1127.7" r="5.7"/><circle cx="1064.4" cy="1105.4" r="5.7"/><circle cx="1069.9" cy="1082.4" r="5.7"/><circle cx="1075.9" cy="1056.8" r="5.7"/><circle cx="1081.4" cy="1031.1" r="5.7"/><circle cx="1087.4" cy="1000.7" r="5.7"/><circle cx="1092.5" cy="974.0" r="5.7"/><circle cx="1097.7" cy="946.0" r="5.7"/><circle cx="1103.1" cy="918.9" r="5.7"/><circle cx="1109.9" cy="895.3" r="5.7"/><circle cx="1114.6" cy="873.1" r="5.7"/><circle cx="1120.0" cy="855.2" r="5.7"/><circle cx="1125.4" cy="842.2" r="5.7"/><circle cx="1132.2" cy="829.3" r="5.7"/><circle cx="1035.1" cy="1216.2" r="5.7"/><circle cx="1043.2" cy="1208.1" r="5.7"/><circle cx="1049.7" cy="1198.9" r="5.7"/><circle cx="1056.2" cy="1186.5" r="5.7"/><circle cx="1063.2" cy="1171.4" r="5.7"/><circle cx="1070.4" cy="1152.0" r="5.7"/><circle cx="1075.8" cy="1134.5" r="5.7"/><circle cx="1081.9" cy="1111.5" r="5.7"/><circle cx="1086.1" cy="1091.9" r="5.7"/><circle cx="1090.1" cy="1071.0" r="5.7"/><circle cx="1094.2" cy="1048.6" r="5.7"/><circle cx="1097.6" cy="1031.1" r="5.7"/><circle cx="1100.3" cy="1012.2" r="5.7"/><circle cx="1103.0" cy="993.2" r="5.7"/><circle cx="1104.4" cy="978.0" r="5.7"/><circle cx="1105.8" cy="964.9" r="5.7"/><circle cx="1107.2" cy="950.7" r="5.7"/><circle cx="1107.8" cy="933.8" r="5.7"/><circle cx="1109.9" cy="914.9" r="5.7"/><circle cx="1110.5" cy="895.3" r="5.7"/><circle cx="1132.2" cy="829.3" r="5.7"/><circle cx="1139.6" cy="817.8" r="5.7"/><circle cx="1145.7" cy="813.1" r="5.7"/><circle cx="1152.4" cy="808.4" r="5.7"/><circle cx="1159.2" cy="805.0" r="5.7"/><circle cx="1166.6" cy="805.0" r="5.7"/><circle cx="1174.1" cy="800.9" r="5.7"/><circle cx="1181.5" cy="800.3" r="5.7"/><circle cx="1188.9" cy="800.3" r="5.7"/><circle cx="1197.0" cy="799.6" r="5.7"/><circle cx="1205.8" cy="800.3" r="5.7"/><circle cx="1213.9" cy="798.9" r="5.7"/><circle cx="1222.7" cy="798.9" r="5.7"/><circle cx="1231.5" cy="798.2" r="5.7"/><circle cx="1239.6" cy="800.3" r="5.7"/></g>
</g>
<rect x="894.5" y="761.8" width="576.20" height="462.30" fill="none" stroke="#000" stroke-width="2"/>
<path d="M894.5 1131.64h9 M894.5 1039.18h9 M894.5 946.72h9 M894.5 854.26h9 M1038.55 1224.1v-9 M1182.60 1224.1v-9 M1326.65 1224.1v-9" stroke="#000" stroke-width="1.6" fill="none"/>
<text x="884.1" y="1236.6" font-family='"Liberation Serif", serif' font-size="33.5" text-anchor="end">0</text>
<text x="884.1" y="1144.1" font-family='"Liberation Serif", serif' font-size="33.5" text-anchor="end">1500</text>
<text x="884.1" y="1051.7" font-family='"Liberation Serif", serif' font-size="33.5" text-anchor="end">3000</text>
<text x="884.1" y="959.2" font-family='"Liberation Serif", serif' font-size="33.5" text-anchor="end">4500</text>
<text x="884.1" y="866.8" font-family='"Liberation Serif", serif' font-size="33.5" text-anchor="end">6000</text>
<text x="884.1" y="774.3" font-family='"Liberation Serif", serif' font-size="33.5" text-anchor="end">7500</text>
<text x="894.5" y="1261.9" font-family='"Liberation Serif", serif' font-size="33.5" text-anchor="middle">0</text>
<text x="1038.5" y="1261.9" font-family='"Liberation Serif", serif' font-size="33.5" text-anchor="middle">1</text>
<text x="1182.6" y="1261.9" font-family='"Liberation Serif", serif' font-size="33.5" text-anchor="middle">2</text>
<text x="1326.7" y="1261.9" font-family='"Liberation Serif", serif' font-size="33.5" text-anchor="middle">3</text>
<text x="1470.7" y="1261.9" font-family='"Liberation Serif", serif' font-size="33.5" text-anchor="middle">4</text>
<text x="776.9" y="729.7" font-family='"Liberation Sans", sans-serif' font-weight="bold" font-size="42.5">D</text>
<g transform="translate(798.4,1054.6) rotate(-90)">
<text x="-1" y="0" font-family='"Liberation Serif", serif' font-style="italic" font-size="33.5">q</text>
<path d="M40.70 -24.80A13.64 13.64 0 0 0 40.70 0.30" fill="none" stroke="#000" stroke-width="1.5"/>
<text x="47.6" y="0" font-family='"Liberation Serif", serif' font-size="32.5" textLength="48" lengthAdjust="spacingAndGlyphs">kPa</text>
<path d="M101.10 -24.80A13.16 13.16 0 0 1 101.10 0.30" fill="none" stroke="#000" stroke-width="1.5"/>
</g>
<text x="1128.6" y="1293.5" font-family='"Liberation Serif", serif' font-style="italic" font-size="33.5">&#949;</text>
<text x="1142.1" y="1301.8" font-family='"Liberation Serif", serif' font-style="italic" font-size="25">a</text>
<path d="M1180.90 1267.50A14.07 14.07 0 0 0 1180.90 1293.90" fill="none" stroke="#000" stroke-width="1.5"/>
<path d="M1218.70 1267.50A13.68 13.68 0 0 1 1218.70 1293.90" fill="none" stroke="#000" stroke-width="1.5"/>
<text x="1185.1" y="1293.5" font-family='"Liberation Serif", serif' font-weight="bold" font-size="35">%</text>
<path d="M890.0 1314.2H947.3" stroke="#9a9a9a" stroke-width="1"/>
<rect x="913.6" y="1309.2" width="10" height="10" fill="#484848"/>
<path d="M890.0 1343.9H947.3" stroke="#f08080" stroke-width="1"/>
<circle cx="918.6" cy="1343.9" r="5.8" fill="#ff0000"/>
<g transform="translate(961.0,1324.5) scale(1,1.13)"><text x="0" y="0" font-family='"Liberation Mono", monospace' font-size="23.87" stroke="#fff" stroke-width="0.15">Triaxial shear test</text></g>
<g transform="translate(961.0,1354.2) scale(1,1.13)"><text x="0" y="0" font-family='"Liberation Mono", monospace' font-size="23.87" stroke="#fff" stroke-width="0.15">Triaxial unloading-reloading test</text></g>
<text x="1127.2" y="1414.3" font-family='"Liberation Serif", serif' font-size="46" textLength="170.3" lengthAdjust="spacingAndGlyphs">1200 kPa</text>
</svg></body></html>
